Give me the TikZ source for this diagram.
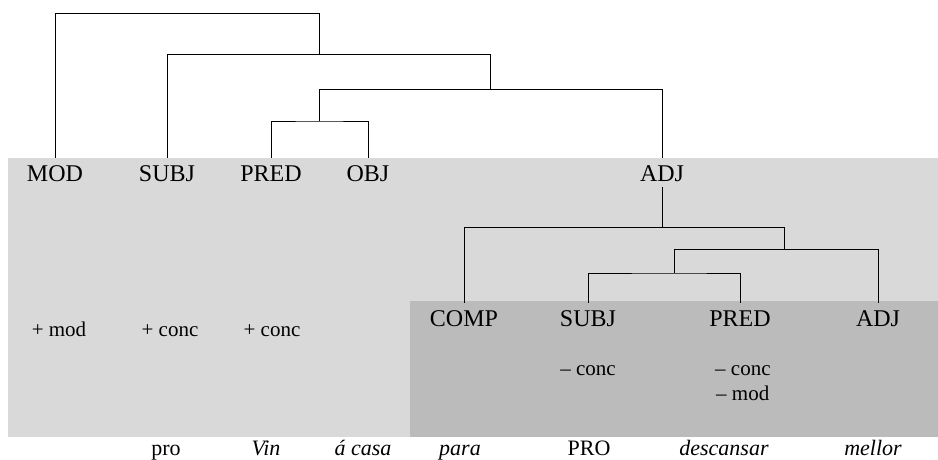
\documentclass[tikz,border=0pt]{standalone}
\usepackage{fontspec}
\setmainfont{Liberation Serif}
\begin{document}
\begin{tikzpicture}[x=1pt,y=-1pt,
  fnode/.style={inner sep=0pt},
  lab/.style={font=\fontsize{24}{28}\selectfont, inner xsep=0pt, inner ysep=6pt,
              text height=17pt, text depth=0pt, anchor=base},
  feat/.style={font=\fontsize{21}{25}\selectfont, inner sep=0pt, anchor=base},
  word/.style={font=\fontsize{22}{26}\selectfont, inner sep=0pt, anchor=base},
  branch/.style={draw=black, line width=0.9pt}]
\useasboundingbox (0,0) rectangle (938,460);

% shaded domains
\fill[fill={rgb,255:red,217;green,217;blue,217}] (8,158) rectangle (938,437);
\fill[fill={rgb,255:red,187;green,187;blue,187}] (410,301) rectangle (938,437);

% upper functional structure
\node[lab] (mod)  at (55,181)  {MOD};
\node[lab] (subj) at (167,181) {SUBJ};
\node[lab] (pred) at (271,181) {PRED};
\node[lab] (obj)  at (368,181) {OBJ};
\node[lab] (adj)  at (662,181) {ADJ};

% embedded structure
\node[lab] (comp)  at (464,326) {COMP};
\node[lab] (lsubj) at (588,326) {SUBJ};
\node[lab] (lpred) at (740,326) {PRED};
\node[lab] (ladj)  at (878,326) {ADJ};

% features
\node[feat] (fmod)   at (59,336)  {+ mod};
\node[feat] (fconc1) at (170,336) {+ conc};
\node[feat] (fconc2) at (272,336) {+ conc};
\node[feat] (fconc3) at (588,375) {– conc};
\node[feat, anchor=base west] (fconc4) at (715,375) {– conc};
\node[feat, anchor=base west] (fmod2)  at (716,400) {– mod};

% words
\node[word] (w1) at (166,455) {pro};
\node[word] (w2) at (266,455) {\itshape Vin};
\node[word] (w3) at (363,455) {\itshape á casa};
\node[word] (w4) at (460,455) {\itshape para};
\node[word] (w5) at (589,455) {PRO};
\node[word] (w6) at (724,455) {\itshape descansar};
\node[word] (w7) at (873,455) {\itshape mellor};

% branching points
\coordinate (r1) at (319,13);
\coordinate (r2) at (319,54);
\coordinate (s1) at (490,54);
\coordinate (s2) at (490,89);
\coordinate (t1) at (319,89);
\coordinate (t2) at (319,121);

\coordinate (l1) at (662,227);
\coordinate (q1) at (784,227);
\coordinate (q2) at (784,249);
\coordinate (q3) at (674,249);
\coordinate (q4) at (674,273);

% upper tree
\draw[branch] (mod.north) |- (r1) -- (r2);
\draw[branch] (subj.north) |- (s1) -- (s2);
\draw[branch] (adj.north) |- (t1) -- (t2);
\draw[branch] (pred.north) |- (t2) -| (obj.north);

% lower tree
\draw[branch] (adj.south) -- (l1);
\draw[branch] (comp.north) |- (q1) -- (q2);
\draw[branch] (ladj.north) |- (q3) -- (q4);
\draw[branch] (lsubj.north) |- (q4) -| (lpred.north);
\end{tikzpicture}
\end{document}
